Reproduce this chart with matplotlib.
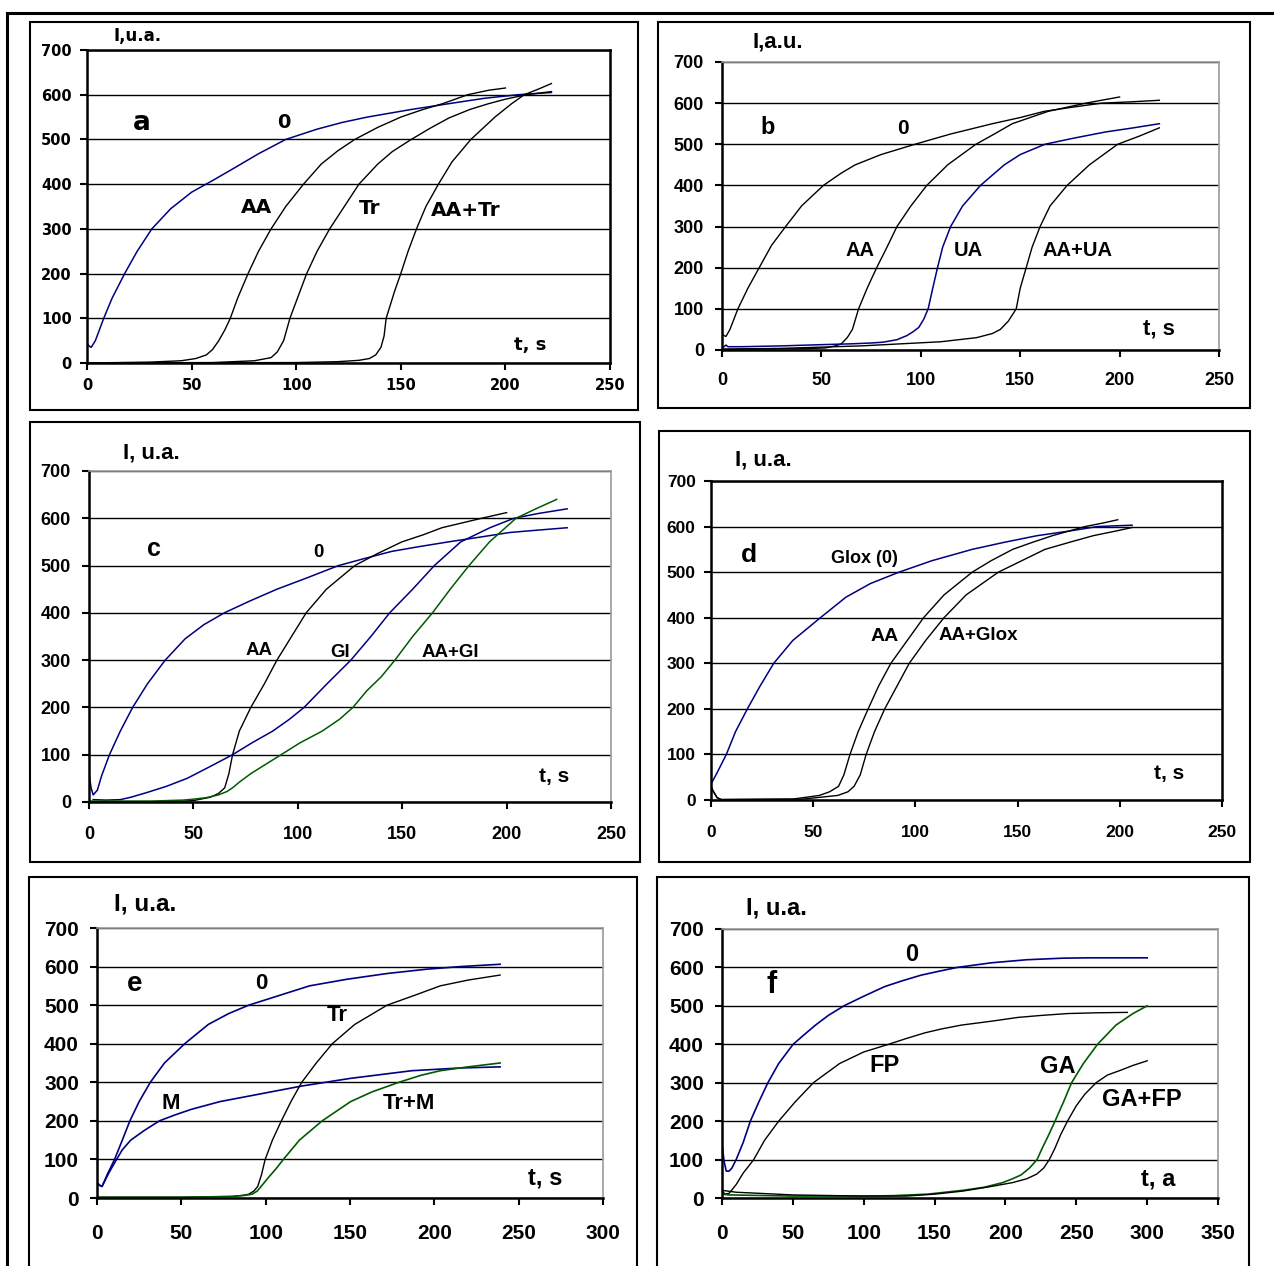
import matplotlib
matplotlib.use('Agg')
import matplotlib.pyplot as plt
from matplotlib.patches import Rectangle
from matplotlib.lines import Line2D

W, H = 1274, 1266
BLUE = '#000080'
GREEN = '#005a00'

# ---- panel a ----
a_t0 = [0, 1, 2, 4, 8, 12, 18, 24, 31, 40, 50, 60, 70, 82, 95, 110, 122, 134, 155, 173, 190, 206, 222]
a_I0 = [45, 38, 35, 50, 100, 145, 200, 250, 300, 345, 382, 408, 435, 468, 500, 523, 538, 550, 567, 580, 592, 600, 605]
a_tAA = [0, 30, 45, 52, 57, 60, 63, 66, 68.5, 72, 77, 82, 88, 95, 103.5, 112, 120, 128, 139, 150, 160, 170, 182, 192, 200]
a_IAA = [0, 2, 5, 10, 18, 30, 50, 75, 100, 145, 200, 250, 300, 350, 400, 445, 475, 500, 527, 550, 566, 580, 600, 610, 615]
a_tTr = [0, 60, 80, 88, 91, 94, 97, 101, 105, 110, 116, 123, 130, 139, 146, 155, 164, 173, 183, 192, 200, 210, 222]
a_ITr = [0, 1, 5, 12, 25, 50, 100, 150, 200, 250, 300, 350, 400, 445, 473, 500, 525, 548, 567, 580, 590, 600, 607]
a_tAT = [0, 100, 120, 130, 135, 138, 140.5, 142, 143, 145, 147, 150, 153.5, 157.5, 162, 168, 174.5, 183.5, 195, 203, 209, 216, 222]
a_IAT = [0, 1, 3, 6, 10, 18, 35, 60, 100, 130, 160, 200, 250, 300, 350, 400, 450, 500, 550, 580, 600, 613, 625]

# ---- panel b ----
b_t0 = [0, 1, 2, 4, 8, 13, 18.7, 25, 32, 40, 51, 60, 67, 80, 97, 115, 136, 150, 162, 176, 191, 205, 220]
b_I0 = [40, 35, 33, 50, 100, 150, 200, 255, 300, 350, 400, 430, 450, 475, 500, 525, 550, 565, 580, 590, 600, 603, 607]
b_tAA = [0, 40, 52, 57, 60, 63, 65.6, 68.7, 73, 77.8, 83, 88, 95, 103, 113.5, 127.7, 137, 146, 155, 164, 183, 192, 200]
b_IAA = [2, 3, 5, 10, 15, 30, 50, 100, 150, 200, 250, 300, 350, 400, 450, 500, 525, 550, 565, 580, 600, 608, 615]
b_tUA = [0, 1, 2, 3, 10, 30, 50, 65, 75, 81, 88, 93, 96, 99, 101.5, 103.7, 106, 108.4, 111, 115, 121, 130, 142, 150, 162.4, 177, 193, 207, 220]
b_IUA = [5, 8, 12, 8, 8, 10, 13, 15, 17, 19, 25, 35, 44, 55, 75, 100, 150, 200, 250, 300, 350, 400, 450, 475, 500, 515, 530, 540, 550]
b_tAU = [0, 30, 70, 110, 128, 136, 140, 144, 146, 148, 150, 153, 156, 160, 165, 173.6, 184.8, 199, 210, 220]
b_IAU = [2, 4, 10, 20, 30, 40, 50, 70, 85, 100, 150, 200, 250, 300, 350, 400, 450, 500, 520, 540]

# ---- panel c ----
c_t0 = [0, 1, 2, 4, 6, 9.8, 15, 20.9, 28, 36.5, 46, 55, 64.8, 77, 90, 105, 119.5, 132, 145, 158, 172, 187, 201.6, 215, 229]
c_I0 = [60, 30, 15, 25, 55, 100, 150, 200, 250, 300, 345, 375, 400, 425, 450, 475, 500, 515, 530, 540, 550, 560, 570, 575, 580]
c_tAA = [0, 40, 50, 58, 62, 65, 67, 68.75, 72, 77.5, 84, 90, 97, 104, 113.7, 127.3, 138, 149.8, 160, 169, 188, 200]
c_IAA = [0, 1, 3, 10, 18, 30, 60, 100, 150, 200, 250, 300, 350, 400, 450, 500, 525, 550, 565, 580, 600, 612]
c_tGl = [2, 8, 15, 20, 27.7, 37, 47, 58, 68.75, 78, 88, 96, 103, 114, 125.4, 135, 144, 155, 165.4, 178, 192, 203.5, 215, 229]
c_IGl = [5, 4, 5, 10, 20, 33, 50, 75, 100, 125, 150, 175, 200, 250, 300, 350, 400, 450, 500, 550, 580, 600, 610, 620]
c_tAG = [0, 30, 45, 50, 56, 62, 66, 68.75, 72, 77.5, 84, 92, 101, 111.7, 120, 126.4, 133, 140, 146.5, 155, 164.5, 173, 182, 191.8, 204.5, 214, 224]
c_IAG = [2, 2, 4, 6, 9, 15, 22, 30, 42, 60, 78, 100, 125, 150, 175, 200, 235, 265, 300, 350, 400, 450, 500, 550, 600, 620, 640]

# ---- panel d ----
d_t0 = [0, 3, 7.5, 12, 17.8, 24, 30.7, 40, 53.5, 66, 78, 92, 108, 127.8, 143, 159.5, 175, 189, 200, 206]
d_I0 = [35, 60, 100, 150, 200, 250, 300, 350, 400, 445, 475, 500, 525, 550, 565, 580, 590, 600, 602, 603]
d_tAA = [0, 1, 3, 5, 40, 53, 58, 62.4, 65, 68, 72, 76.9, 82, 88, 96, 104, 114, 127.8, 137, 147.6, 157, 167, 183, 192, 199]
d_IAA = [30, 20, 5, 1, 2, 10, 18, 30, 55, 100, 150, 200, 250, 300, 350, 400, 450, 500, 525, 550, 565, 580, 600, 608, 615]
d_tAG = [0, 1, 3, 5, 45, 62, 67, 70, 73, 75.9, 80, 85, 91, 97, 105, 114, 124.8, 140.6, 152, 163.4, 175, 187, 200, 206]
d_IAG = [30, 20, 5, 1, 2, 10, 18, 30, 55, 100, 150, 200, 250, 300, 350, 400, 450, 500, 525, 550, 565, 580, 592, 598]

# ---- panel e ----
e_t0 = [0, 1.5, 3, 6, 10.4, 15, 19.5, 25, 31.6, 40, 52, 66, 78, 90, 108, 126, 148, 172, 195, 215.5, 239]
e_I0 = [40, 33, 30, 60, 100, 150, 200, 250, 300, 350, 400, 450, 478, 500, 525, 550, 567, 582, 593, 600, 606]
e_tM = [0, 1.5, 3, 7, 11.6, 15, 20, 28, 37, 46, 56, 73, 97, 121, 150, 186.6, 215, 239]
e_IM = [40, 33, 30, 65, 100, 125, 150, 175, 200, 215, 230, 250, 270, 290, 310, 330, 337, 340]
e_tTr = [0, 50, 80, 87, 90, 93, 95.3, 97.5, 99.7, 104, 109.3, 115, 121.4, 130, 139.5, 152.8, 172, 188, 203.5, 220, 239]
e_ITr = [2, 2, 4, 7, 10, 18, 30, 60, 100, 150, 200, 250, 300, 350, 400, 450, 500, 525, 550, 565, 578]
e_tTM = [0, 50, 80, 88, 92, 95, 97.3, 102, 106, 110.5, 120, 133.5, 150.4, 163, 179, 192, 203.5, 220, 239]
e_ITM = [2, 2, 4, 7, 10, 18, 30, 55, 75, 100, 150, 200, 250, 275, 300, 318, 330, 340, 350]

# ---- panel f ----
f_t0 = [0, 1.5, 3, 5, 7, 10, 15, 20, 26, 32.4, 40, 50.2, 58, 66, 75, 86, 100, 114.7, 127, 140.6, 153, 166, 190, 215, 240, 258, 280, 300]
f_I0 = [140, 95, 70, 70, 78, 100, 145, 200, 250, 300, 350, 400, 425, 450, 475, 500, 525, 550, 565, 580, 590, 600, 612, 620, 624, 625, 625, 625]
f_tFP = [0, 2, 5, 10, 15, 22.4, 30, 40, 51.6, 64.5, 83, 100, 117.6, 130, 143.4, 155, 169, 190, 209, 225, 244, 265, 286]
f_IFP = [20, 10, 12, 35, 65, 100, 150, 200, 250, 300, 350, 380, 400, 415, 430, 440, 450, 460, 470, 475, 480, 482, 483]
f_tGA = [0, 5, 50, 100, 120, 145, 170, 185, 198, 205, 211, 217, 222.3, 226, 230, 235, 241, 246.7, 255, 265, 278, 290, 300]
f_IGA = [10, 8, 5, 5, 6, 10, 20, 28, 40, 50, 60, 78, 100, 130, 160, 200, 250, 300, 350, 400, 450, 480, 500]
f_tGF = [0, 10, 50, 100, 130, 150, 170, 190, 205, 215, 222, 227, 231, 235, 239, 243.8, 250, 256, 264, 272, 281, 290, 300]
f_IGF = [20, 15, 8, 5, 5, 10, 18, 30, 40, 50, 62, 78, 100, 130, 165, 200, 240, 270, 300, 320, 332, 345, 357]


def fig_rect(left, top, right, bottom):
    return [left / W, 1 - bottom / H, (right - left) / W, (bottom - top) / H]


def make_panel(fig, axes_px, box_px, xmax, font, tick_pt, frame_color, xpad, ypad):
    l, t, r, b = box_px
    fig.add_artist(Rectangle((l / W, 1 - b / H), (r - l) / W, (b - t) / H,
                             transform=fig.transFigure, fill=False,
                             ec='black', lw=1.5))
    ax = fig.add_axes(fig_rect(*axes_px))
    ax.set_xlim(0, xmax)
    ax.set_ylim(0, 700)
    xt = list(range(0, xmax + 1, 50))
    yt = list(range(0, 701, 100))
    ax.set_xticks(xt, labels=[str(v) for v in xt], family=font,
                  fontweight='bold', fontsize=tick_pt)
    ax.set_yticks(yt, labels=[str(v) for v in yt], family=font,
                  fontweight='bold', fontsize=tick_pt)
    ax.tick_params(axis='x', length=5, width=1.5, pad=xpad, direction='out')
    ax.tick_params(axis='y', length=5, width=1.5, pad=ypad, direction='out')
    ax.yaxis.grid(True, color='black', lw=1)
    ax.set_axisbelow(True)
    for side in ('left', 'bottom'):
        ax.spines[side].set_linewidth(1.8)
        ax.spines[side].set_color('black')
    for side in ('top', 'right'):
        ax.spines[side].set_color(frame_color)
        ax.spines[side].set_linewidth(1.8 if frame_color == 'black' else 1.2)
    return ax


def label(ax, x, y, s, font, size):
    ax.text(x, y, s, ha='center', va='center', family=font,
            fontweight='bold', fontsize=size, clip_on=False)


fig = plt.figure(figsize=(W / 100, H / 100), dpi=100)

# outer frame lines
fig.add_artist(Line2D([7 / W, 1], [1 - 13 / H, 1 - 13 / H], color='black', lw=2.2,
                      transform=fig.transFigure))
fig.add_artist(Line2D([7 / W, 7 / W], [0, 1 - 13 / H], color='black', lw=2.2,
                      transform=fig.transFigure))

FA = ['DejaVu Sans']
FB = ['Liberation Sans', 'DejaVu Sans']

# a
ax = make_panel(fig, (87, 50, 610, 363), (30, 22, 638, 410), 250, FA, 10.5, 'black', 6, 6)
ax.plot(a_t0, a_I0, color=BLUE, lw=1.1)
ax.plot(a_tAA, a_IAA, color='black', lw=1.0)
ax.plot(a_tTr, a_ITr, color='black', lw=1.0)
ax.plot(a_tAT, a_IAT, color='black', lw=1.0)
label(ax, 24, 731, 'I,u.a.', FA, 12)
label(ax, 26, 537, 'a', FA, 19)
label(ax, 94, 537, '0', FA, 14)
label(ax, 81, 347, 'AA', FA, 14.5)
label(ax, 135, 345, 'Tr', FA, 14.5)
label(ax, 181, 342, 'AA+Tr', FA, 14.5)
label(ax, 212, 40, 't, s', FA, 13)

# b
ax = make_panel(fig, (722, 62, 1219, 350), (658, 22, 1250, 408), 250, FB, 13, '#999999', 11, 8)
ax.plot(b_t0, b_I0, color='black', lw=1.0)
ax.plot(b_tAA, b_IAA, color='black', lw=1.0)
ax.plot(b_tUA, b_IUA, color=BLUE, lw=1.1)
ax.plot(b_tAU, b_IAU, color='black', lw=1.0)
label(ax, 28, 748, 'I,a.u.', FB, 16)
label(ax, 23, 542, 'b', FB, 17)
label(ax, 91, 538, '0', FB, 15)
label(ax, 69.6, 242, 'AA', FB, 14.5)
label(ax, 123.7, 242, 'UA', FB, 14.5)
label(ax, 178.7, 242, 'AA+UA', FB, 14.5)
label(ax, 220, 51, 't, s', FB, 16)

# c
ax = make_panel(fig, (89, 471, 611, 802), (30, 422, 640, 862), 250, FB, 13, '#999999', 12, 8)
ax.plot(c_t0, c_I0, color=BLUE, lw=1.1)
ax.plot(c_tAA, c_IAA, color='black', lw=1.0)
ax.plot(c_tGl, c_IGl, color=BLUE, lw=1.1)
ax.plot(c_tAG, c_IAG, color=GREEN, lw=1.1)
label(ax, 30, 738, 'I, u.a.', FB, 16)
label(ax, 31, 535, 'c', FB, 18)
label(ax, 110, 528, '0', FB, 13.5)
label(ax, 81.4, 320, 'AA', FB, 13.5)
label(ax, 120.5, 317, 'Gl', FB, 13.5)
label(ax, 173, 317, 'AA+Gl', FB, 13.5)
label(ax, 223, 53, 't, s', FB, 15)

# d
ax = make_panel(fig, (711, 481, 1222, 800), (659, 431, 1250, 862), 250, FB, 12.5, 'black', 13, 6)
ax.plot(d_t0, d_I0, color=BLUE, lw=1.1)
ax.plot(d_tAA, d_IAA, color='black', lw=1.0)
ax.plot(d_tAG, d_IAG, color='black', lw=1.0)
label(ax, 25.8, 745, 'I, u.a.', FB, 16)
label(ax, 18.4, 537, 'd', FB, 19)
label(ax, 75, 531, 'Glox (0)', FB, 13)
label(ax, 84.8, 358, 'AA', FB, 14)
label(ax, 130.7, 362, 'AA+Glox', FB, 13.5)
label(ax, 224, 58, 't, s', FB, 15)

# e
ax = make_panel(fig, (97, 928, 603, 1198), (29, 877, 637, 1272), 300, FB, 15, '#999999', 14, 8)
ax.plot(e_t0, e_I0, color=BLUE, lw=1.2)
ax.plot(e_tM, e_IM, color=BLUE, lw=1.2)
ax.plot(e_tTr, e_ITr, color='black', lw=1.0)
ax.plot(e_tTM, e_ITM, color=GREEN, lw=1.2)
label(ax, 28.5, 763, 'I, u.a.', FB, 17.5)
label(ax, 22.4, 556, 'e', FB, 20)
label(ax, 97.3, 556, '0', FB, 16)
label(ax, 142.6, 474, 'Tr', FB, 16)
label(ax, 44, 246, 'M', FB, 16)
label(ax, 185, 246, 'Tr+M', FB, 16)
label(ax, 266, 52, 't, s', FB, 17)

# f
ax = make_panel(fig, (722, 929, 1218, 1198), (657, 877, 1249, 1272), 350, FB, 15, '#999999', 14, 8)
ax.plot(f_t0, f_I0, color=BLUE, lw=1.2)
ax.plot(f_tFP, f_IFP, color='black', lw=1.0)
ax.plot(f_tGA, f_IGA, color=GREEN, lw=1.2)
ax.plot(f_tGF, f_IGF, color='black', lw=1.0)
label(ax, 38.7, 755, 'I, u.a.', FB, 17)
label(ax, 35, 555, 'f', FB, 22)
label(ax, 134, 633, '0', FB, 17)
label(ax, 114.7, 344, 'FP', FB, 17)
label(ax, 236.7, 343, 'GA', FB, 17)
label(ax, 296, 256, 'GA+FP', FB, 17)
label(ax, 308, 49, 't, a', FB, 17)

fig.savefig('out.png', dpi=100)
